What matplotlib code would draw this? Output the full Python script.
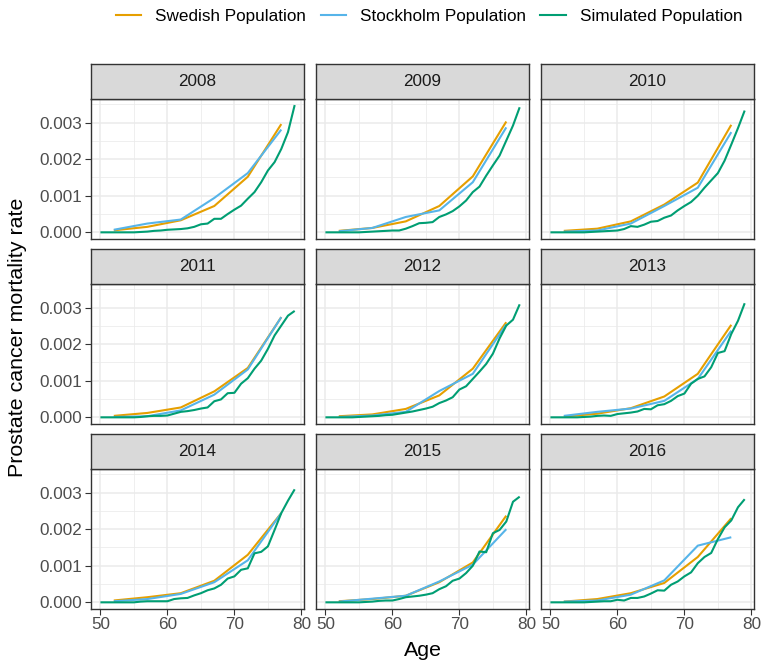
import numpy as np
import matplotlib
matplotlib.use("Agg")
import matplotlib.pyplot as plt
from matplotlib.lines import Line2D
from matplotlib.ticker import FixedLocator, FuncFormatter

plt.rcParams["font.family"] = ["Liberation Sans", "DejaVu Sans"]

# Observed rates by 5-year age group (group midpoints)
group_ages = [52, 57, 62, 67, 72, 77]
# Simulated rates by single year of age
sim_ages = list(range(50, 80))

years = [2008, 2009, 2010, 2011, 2012, 2013, 2014, 2015, 2016]

swedish = {
    2008: [0.000055, 0.00015, 0.00033, 0.00072, 0.00152, 0.00296],
    2009: [0.00004, 0.00012, 0.00030, 0.00072, 0.00153, 0.00303],
    2010: [0.00004, 0.00010, 0.00030, 0.00076, 0.00136, 0.00294],
    2011: [0.00004, 0.00012, 0.00027, 0.00071, 0.00135, 0.00274],
    2012: [0.00003, 0.00008, 0.00023, 0.00060, 0.00133, 0.00260],
    2013: [0.00002, 0.00010, 0.00025, 0.00057, 0.00119, 0.00253],
    2014: [0.00005, 0.00014, 0.00025, 0.00059, 0.00130, 0.00244],
    2015: [0.00003, 0.00009, 0.00018, 0.00055, 0.00109, 0.00237],
    2016: [0.00002, 0.00009, 0.00025, 0.00053, 0.00124, 0.00230],
}

stockholm = {
    2008: [0.00007, 0.00024, 0.00035, 0.00094, 0.00162, 0.00281],
    2009: [0.00003, 0.00012, 0.00042, 0.00060, 0.00137, 0.00287],
    2010: [0.00002, 0.00005, 0.00024, 0.00072, 0.00122, 0.00274],
    2011: [0.00001, 0.00003, 0.00019, 0.00062, 0.00131, 0.00274],
    2012: [0.00001, 0.00005, 0.00015, 0.00072, 0.00119, 0.00254],
    2013: [0.00004, 0.00015, 0.00024, 0.00045, 0.00105, 0.00237],
    2014: [0.00003, 0.00009, 0.00023, 0.00055, 0.00115, 0.00244],
    2015: [0.00002, 0.00010, 0.00018, 0.00057, 0.00103, 0.00200],
    2016: [0.00002, 0.00005, 0.00021, 0.00060, 0.00155, 0.00178],
}

simulated = {
    2008: [0, 0, 0, 0, 0, 0, 0.00001, 0.00002, 0.00004, 0.00005,
           0.00007, 0.00008, 0.00009, 0.00011, 0.00015, 0.00022, 0.00024, 0.00037, 0.00037, 0.00050,
           0.00062, 0.00073, 0.00092, 0.00110, 0.00137, 0.00169, 0.00192, 0.00228, 0.00274, 0.00348],
    2009: [0, 0, 0, 0, 0, 0, 0.00001, 0.00002, 0.00003, 0.00004,
           0.00005, 0.00005, 0.00010, 0.00017, 0.00025, 0.00026, 0.00028, 0.00042, 0.00049, 0.00058,
           0.00071, 0.00087, 0.00110, 0.00125, 0.00155, 0.00183, 0.00210, 0.00251, 0.00292, 0.00342],
    2010: [0, 0, 0, 0, 0, 0, 0.00001, 0.00002, 0.00003, 0.00004,
           0.00005, 0.00009, 0.00017, 0.00015, 0.00021, 0.00029, 0.00031, 0.00040, 0.00046, 0.00060,
           0.00072, 0.00083, 0.00100, 0.00122, 0.00142, 0.00162, 0.00196, 0.00240, 0.00285, 0.00333],
    2011: [0, 0, 0, 0, 0, 0, 0.00001, 0.00003, 0.00004, 0.00004,
           0.00005, 0.00010, 0.00015, 0.00017, 0.00020, 0.00024, 0.00027, 0.00044, 0.00049, 0.00066,
           0.00067, 0.00092, 0.00107, 0.00133, 0.00155, 0.00187, 0.00224, 0.00251, 0.00278, 0.00291],
    2012: [0, 0, 0, 0, 0, 0.00001, 0.00002, 0.00003, 0.00004, 0.00006,
           0.00007, 0.00010, 0.00013, 0.00016, 0.00020, 0.00024, 0.00029, 0.00039, 0.00046, 0.00055,
           0.00076, 0.00085, 0.00105, 0.00125, 0.00146, 0.00174, 0.00216, 0.00251, 0.00267, 0.00309],
    2013: [0, 0, 0, 0, 0, 0.00001, 0.00002, 0.00004, 0.00005, 0.00004,
           0.00009, 0.00011, 0.00013, 0.00016, 0.00023, 0.00022, 0.00033, 0.00036, 0.00045, 0.00058,
           0.00065, 0.00092, 0.00105, 0.00112, 0.00137, 0.00176, 0.00181, 0.00228, 0.00264, 0.00312],
    2014: [0, 0, 0, 0, 0, 0, 0.00002, 0.00003, 0.00003, 0.00003,
           0.00003, 0.00009, 0.00011, 0.00012, 0.00019, 0.00025, 0.00033, 0.00038, 0.00048, 0.00065,
           0.00071, 0.00089, 0.00093, 0.00134, 0.00138, 0.00153, 0.00198, 0.00244, 0.00278, 0.00309],
    2015: [0, 0, 0, 0, 0, 0, 0.00001, 0.00002, 0.00004, 0.00005,
           0.00005, 0.00009, 0.00014, 0.00016, 0.00018, 0.00021, 0.00025, 0.00036, 0.00044, 0.00059,
           0.00065, 0.00080, 0.00100, 0.00139, 0.00137, 0.00189, 0.00198, 0.00221, 0.00275, 0.00289],
    2016: [0, 0, 0, 0, 0, 0, 0.00001, 0.00002, 0.00003, 0.00003,
           0.00007, 0.00005, 0.00012, 0.00012, 0.00016, 0.00024, 0.00033, 0.00032, 0.00048, 0.00057,
           0.00071, 0.00082, 0.00107, 0.00124, 0.00135, 0.00173, 0.00205, 0.00224, 0.00260, 0.00282],
}

series = [
    ("Swedish Population", "#E69F00", group_ages, swedish),
    ("Stockholm Population", "#56B4E9", group_ages, stockholm),
    ("Simulated Population", "#009E73", sim_ages, simulated),
]

W, H = 763, 664
fig = plt.figure(figsize=(W / 100, H / 100), dpi=100)

# facet layout in pixels
col_left = [90.7, 315.7, 540.7]
panel_w = 213.7
row_top = [98.7, 283.7, 468.7]
panel_h = 140.0
strip_h = 34.5

small_fs = 12.3
title_fs = 15.4

# shared scales with 5% padding, like ggplot
all_y = [v for _, _, _, d in series for yr in years for v in d[yr]]
y0, y1 = min(all_y), max(all_y)
ypad = 0.05 * (y1 - y0)
xpad = 0.05 * (max(sim_ages) - min(sim_ages))
xlim = (min(sim_ages) - xpad, max(sim_ages) + xpad)
ylim = (y0 - ypad, y1 + ypad)

border = "#333333"
grid_col = "#EBEBEB"
tick_col = "#4D4D4D"

for i, yr in enumerate(years):
    r, c = divmod(i, 3)
    left = col_left[c] / W
    bottom = 1 - (row_top[r] + panel_h) / H
    ax = fig.add_axes([left, bottom, panel_w / W, panel_h / H])

    for name, color, ages, data in series:
        ax.plot(ages, data[yr], color=color, lw=1.5, solid_capstyle="butt", zorder=3)

    ax.set_xlim(*xlim)
    ax.set_ylim(*ylim)
    ax.xaxis.set_major_locator(FixedLocator([50, 60, 70, 80]))
    ax.xaxis.set_minor_locator(FixedLocator([55, 65, 75]))
    ax.yaxis.set_major_locator(FixedLocator([0, 0.001, 0.002, 0.003]))
    ax.yaxis.set_minor_locator(FixedLocator([0.0005, 0.0015, 0.0025, 0.0035]))
    ax.yaxis.set_major_formatter(FuncFormatter(lambda v, p: f"{v:.3f}"))
    ax.grid(True, which="major", color=grid_col, lw=1.1, zorder=0)
    ax.grid(True, which="minor", color=grid_col, lw=0.55, zorder=0)
    ax.set_axisbelow(True)
    for sp in ax.spines.values():
        sp.set_color(border)
        sp.set_linewidth(1.0)

    ax.tick_params(which="minor", length=0)
    ax.tick_params(which="major", length=4, width=0.8, color=border,
                   labelsize=small_fs, labelcolor=tick_col, pad=2)
    if c != 0:
        ax.tick_params(axis="y", which="major", length=0, labelleft=False)
    if r != 2:
        ax.tick_params(axis="x", which="major", length=0, labelbottom=False)

    # facet strip
    sax = fig.add_axes([left, 1 - row_top[r] / H, panel_w / W, strip_h / H])
    sax.set_facecolor("#D9D9D9")
    sax.set_xticks([])
    sax.set_yticks([])
    for sp in sax.spines.values():
        sp.set_color(border)
        sp.set_linewidth(1.0)
    sax.text(0.5, 0.5, str(yr), ha="center", va="center", fontsize=small_fs,
             color="#1A1A1A", transform=sax.transAxes)

fig.text(18 / W, 1 - 337 / H, "Prostate cancer mortality rate", rotation=90,
         ha="center", va="center", fontsize=title_fs, color="black")
fig.text(423 / W, 1 - 650 / H, "Age", ha="center", va="center", fontsize=title_fs,
         color="black")

handles = [Line2D([], [], color=color, lw=1.5) for _, color, _, _ in series]
labels = [name for name, _, _, _ in series]
fig.legend(handles, labels, loc="center", bbox_to_anchor=(429 / W, 1 - 16 / H),
           ncol=3, frameon=False, fontsize=small_fs, handlelength=1.5,
           handletextpad=0.8, columnspacing=0.85, borderpad=0)

fig.savefig("out.png", dpi=100)
